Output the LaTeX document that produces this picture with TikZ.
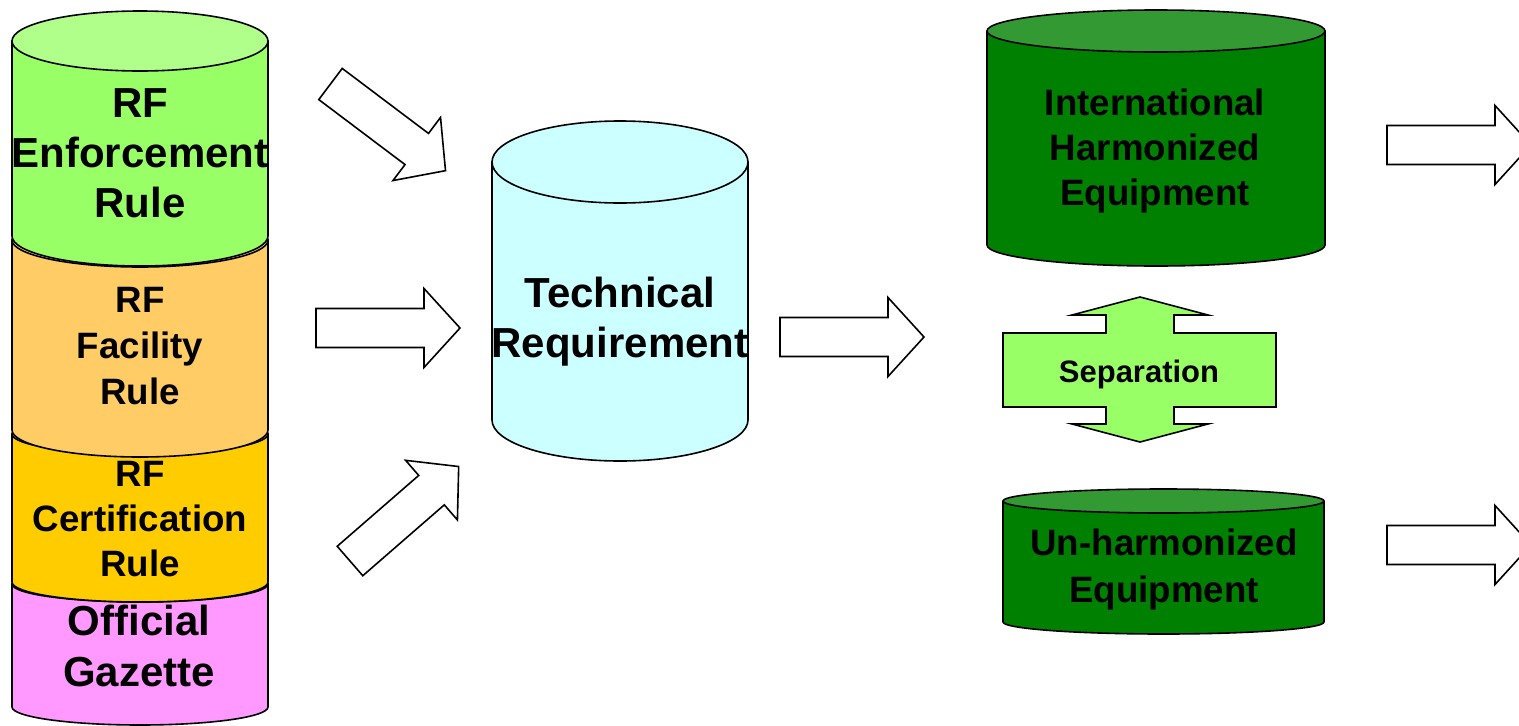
\documentclass[tikz,border=0pt]{standalone}
\usepackage{fontspec}
\setmainfont{Liberation Sans}
\usetikzlibrary{positioning}

\definecolor{enfgreen}{RGB}{153,255,102}
\definecolor{enftop}{RGB}{176,255,138}
\definecolor{facorange}{RGB}{255,204,102}
\definecolor{certyellow}{RGB}{255,204,0}
\definecolor{gazpink}{RGB}{255,153,255}
\definecolor{techcyan}{RGB}{204,255,255}
\definecolor{equipgreen}{RGB}{0,128,0}
\definecolor{equiptop}{RGB}{51,153,51}
\definecolor{sepgreen}{RGB}{153,255,102}

\tikzset{
  canline/.style={draw=black,line width=1.6pt,line join=round},
  cantext/.style={align=center,inner sep=0pt,text=black},
  blockarrow/.pic={
    \draw[canline,fill=white,line join=miter] (0,-19.5) -- (108,-19.5) -- (108,-39.5) -- (144,0)
      -- (108,39.5) -- (108,19.5) -- (0,19.5) -- cycle;
  }
}

% can: name, left x, right x, top y, bottom y, y radius, body colour, lid colour
\newcommand{\canshape}[8]{%
  \pgfmathsetmacro\canrx{(#3-#2)/2}
  \filldraw[canline,fill=#7] (#2,#4) -- (#2,#5) arc[start angle=180,end angle=0,x radius=\canrx,y radius=#6] -- (#3,#4) -- cycle;
  \filldraw[canline,fill=#8] ({(#2+#3)/2},#4) ellipse[x radius=\canrx,y radius=#6];
  \coordinate (#1) at ({(#2+#3)/2},{(#4+#5)/2});
}
\newcommand{\canfont}[2]{\bfseries\fontsize{#1}{#2}\selectfont}

\begin{document}
\begin{tikzpicture}[x=1pt,y=-1pt]
\clip (0,0) rectangle (1519,726);

% stacked rules, lowest first
\canshape{gazcan}{12}{268}{584}{707}{18}{gazpink}{gazpink}
\canshape{certcan}{12}{268}{434}{582}{20}{certyellow}{certyellow}
\canshape{faccan}{12}{268}{240}{430}{27}{facorange}{facorange}
\canshape{enfcan}{12}{268}{41}{236}{30}{enfgreen}{enftop}

% middle and right cans
\canshape{techcan}{492}{748}{162}{420}{41}{techcyan}{techcyan}
\canshape{intlcan}{987}{1325}{31}{245}{21}{equipgreen}{equiptop}
\canshape{unhcan}{1003}{1324}{501}{622}{12}{equipgreen}{equiptop}

% block arrows
\pic[rotate=-37] (arrenf) at (330.5,84) {blockarrow};
\pic (arrfac) at (316,328) {blockarrow};
\pic[rotate=41] (arrcert) at (350,561) {blockarrow};
\pic (arrtech) at (780,337) {blockarrow};
\pic (arrintl) at (1387,145) {blockarrow};
\pic (arrunh) at (1387,545) {blockarrow};

% separation cross
\filldraw[canline,fill=sepgreen,line join=miter] (1140,297) -- (1208,315) -- (1174,315) -- (1174,333)
  -- (1276,333) -- (1276,407) -- (1174,407) -- (1174,424) -- (1208,424) -- (1140,442)
  -- (1072,424) -- (1106,424) -- (1106,407) -- (1003,407) -- (1003,333) -- (1106,333)
  -- (1106,315) -- (1072,315) -- cycle;

% labels
\node at (140,153)[cantext,font=\canfont{42}{50}](enforce){RF\\Enforcement\\Rule};
\node at (140,346)[cantext,font=\canfont{36.7}{45.7}](facility){RF\\Facility\\Rule};
\node at (140,519)[cantext,font=\canfont{36.7}{45}](certify){RF\\Certification\\Rule};
\node at (139,646)[cantext,font=\canfont{42}{50.5}](gazette){Official\\Gazette};
\node at (620,322)[cantext,font=\canfont{42}{50}](techreq){Technical\\Requirement};
\node at (1155,151)[cantext,font=\canfont{36.7}{45}](intl){International\\Harmonized\\Equipment};
\node at (1164,570)[cantext,font=\canfont{36.7}{47}](unharm){Un-harmonized\\Equipment};
\node at (1139,374)[cantext,font=\canfont{31}{36}](separate){Separation};
\end{tikzpicture}
\end{document}
